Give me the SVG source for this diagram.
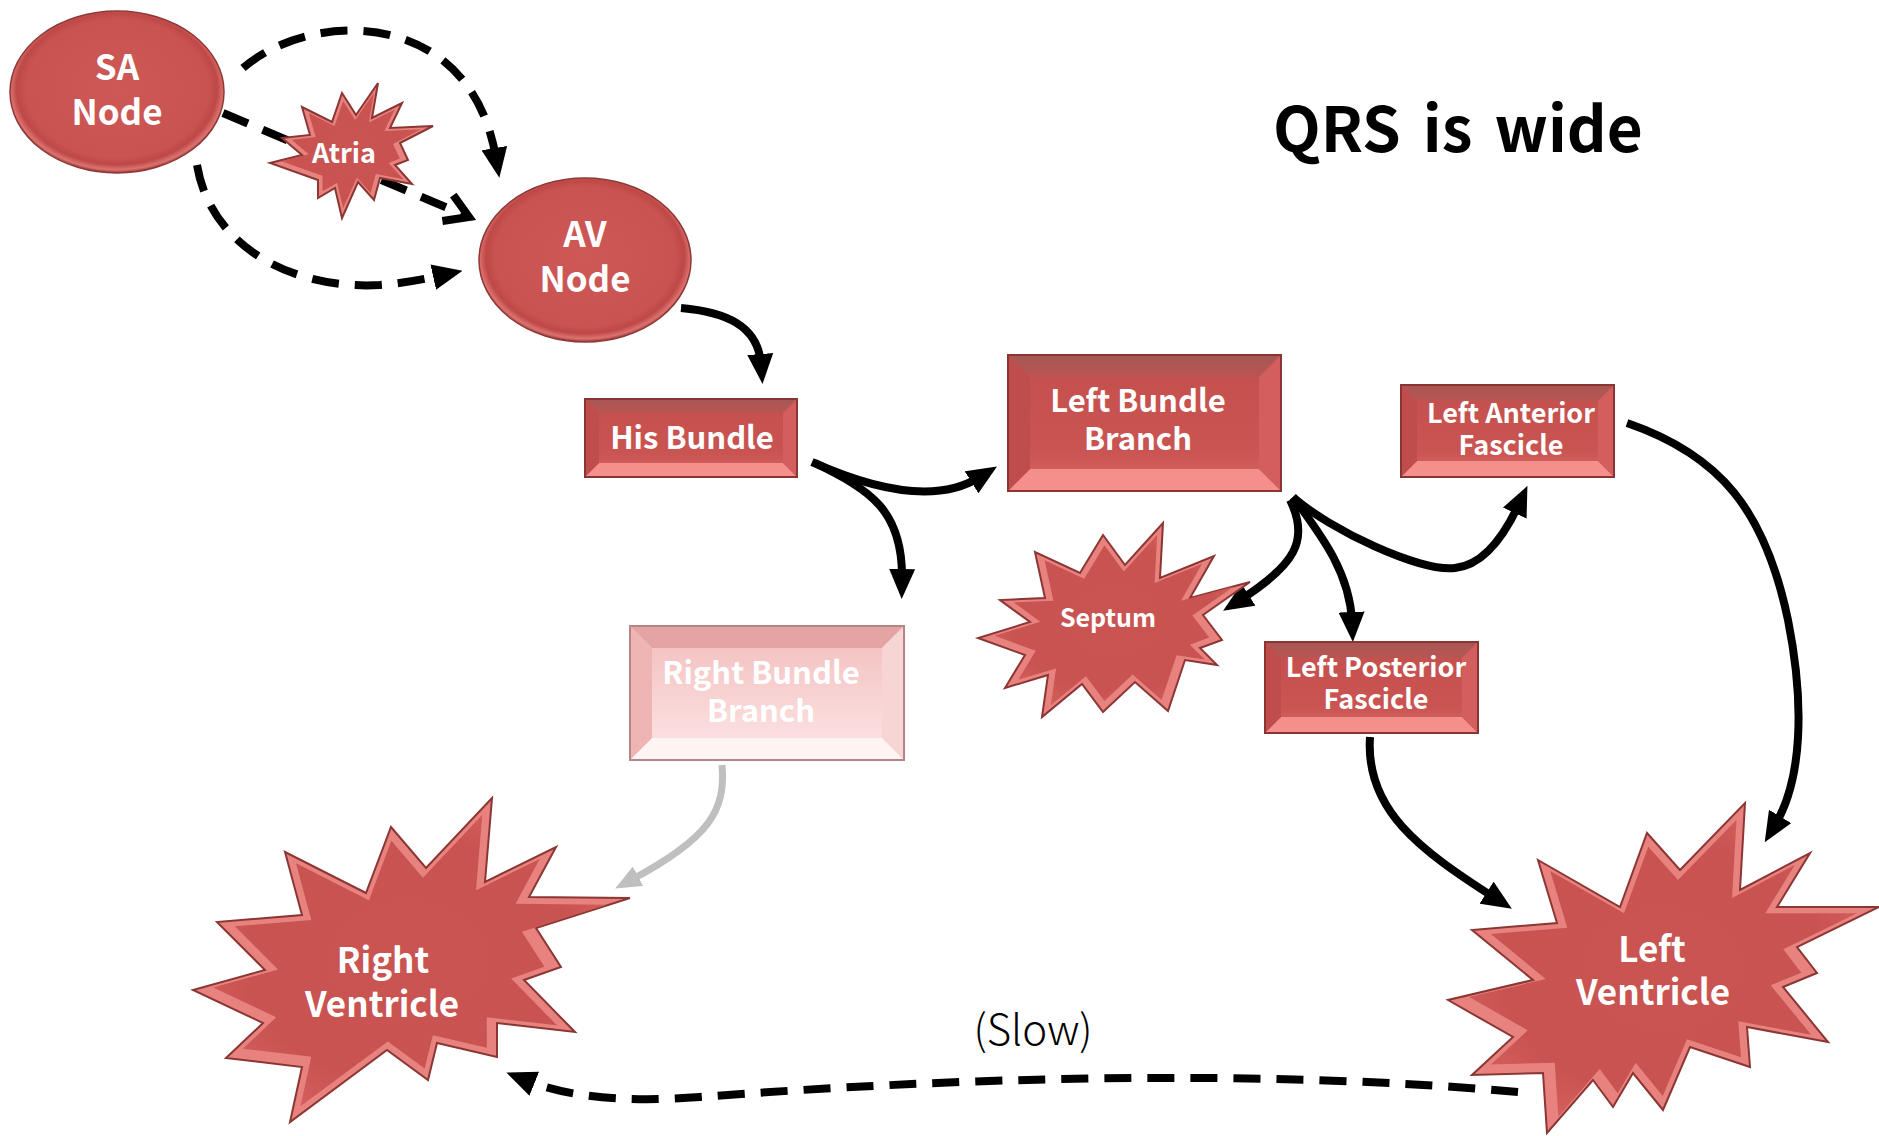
<svg xmlns="http://www.w3.org/2000/svg" xmlns:xlink="http://www.w3.org/1999/xlink" width="1879" height="1136" viewBox="0 0 1879 1136">
<style>
.lbl{fill:#fff;font-family:"Noto Sans CJK KR","Noto Sans",sans-serif;font-weight:bold;text-anchor:middle}
.conn{fill:none;stroke:#000;stroke-width:8}
.dash{stroke-dasharray:27 16}
.face{fill:url(#faceG)}
.bt{fill:url(#topG)}
.bb{fill:#F48F8C}
.bl{fill:#BF4D4B}
.br{fill:#D25F5D}
.edge{fill:none;stroke:#8A3533;stroke-width:2}
.pface{fill:url(#pfaceG)}
.pbt{fill:#E4A4A4}
.pbb{fill:#FFF4F4}
.pbl{fill:#EFB5B5}
.pbr{fill:#F8D5D5}
.pedge{fill:none;stroke:#B68585;stroke-width:2}
.so{fill:#E8827F;stroke:#8C3634;stroke-width:2}
.si{fill:url(#starG)}
.oval{fill:url(#ovalG);stroke:#8E3836;stroke-width:1.5}
</style>
<defs>
<linearGradient id="faceG" x1="0" y1="0" x2="0" y2="1"><stop offset="0" stop-color="#C4504E"/><stop offset="0.7" stop-color="#C95452"/><stop offset="1" stop-color="#D96966"/></linearGradient>
<linearGradient id="topG" x1="0" y1="0" x2="0" y2="1"><stop offset="0" stop-color="#A65755"/><stop offset="1" stop-color="#B95553"/></linearGradient>
<linearGradient id="pfaceG" x1="0" y1="0" x2="0" y2="1"><stop offset="0" stop-color="#F2BDBD"/><stop offset="1" stop-color="#FDE6E6"/></linearGradient>
<radialGradient id="ovalG" cx="50%" cy="48%" r="52%"><stop offset="0" stop-color="#CD5856"/><stop offset="0.82" stop-color="#C85351"/><stop offset="0.9" stop-color="#BE4846"/><stop offset="0.96" stop-color="#DC7270"/><stop offset="1" stop-color="#9C3B39"/></radialGradient>
<radialGradient id="starG" cx="50%" cy="50%" r="60%"><stop offset="0" stop-color="#C95452"/><stop offset="0.7" stop-color="#C85351"/><stop offset="1" stop-color="#D6625F"/></radialGradient>
<marker id="ah" viewBox="0 0 30 26" refX="10" refY="13" markerWidth="30" markerHeight="26" markerUnits="userSpaceOnUse" orient="auto"><path d="M0,0 L30,13 L0,26 z" fill="#000"/></marker>
<marker id="ahg" viewBox="0 0 26 22" refX="8" refY="11" markerWidth="26" markerHeight="22" markerUnits="userSpaceOnUse" orient="auto"><path d="M0,0 L26,11 L0,22 z" fill="#BFBFBF"/></marker>
<marker id="av" viewBox="0 0 34 36" refX="27" refY="18" markerWidth="34" markerHeight="36" markerUnits="userSpaceOnUse" orient="auto"><path d="M4,4 L27,18 L4,32" fill="none" stroke="#000" stroke-width="8"/></marker>
<polygon id="pAtria" points="378,83 372,118 402,103 390,128 433,126 400,143 408,160 395,165 412,184 380,178 374,200 358,182 342,218 335,188 318,198 318,180 270,163 302,155 282,138 310,135 302,107 332,122 342,93 356,115"/>
<polygon id="pSeptum" points="1163,523 1160,578 1214,556 1190,598 1250,582 1203,615 1222,640 1200,648 1217,665 1185,660 1168,711 1135,682 1103,712 1082,684 1042,717 1048,675 1005,688 1025,655 978,638 1030,622 1000,600 1045,598 1035,552 1080,573 1103,535 1125,565"/>
<polygon id="pRV" points="492,798 485,882 556,847 529,897 630,898 536,928 561,967 524,980 575,1032 497,1023 497,1057 437,1043 428,1080 387,1050 290,1122 302,1067 226,1058 263,1023 193,990 265,970 217,922 302,915 285,852 366,893 391,827 426,868"/>
<polygon id="pLV" points="1745,803 1740,890 1810,853 1777,907 1879,907 1797,947 1817,973 1783,987 1828,1042 1747,1027 1750,1067 1690,1047 1663,1110 1633,1073 1613,1107 1593,1080 1547,1133 1543,1073 1472,1075 1513,1037 1448,1000 1533,980 1472,930 1557,923 1538,860 1620,907 1647,833 1680,870"/>
</defs>
<rect width="1879" height="1136" fill="#fff"/>

<g id="connectors">
<path class="conn dash" d="M243,68 C310,10 470,5 496,158" marker-end="url(#ah)"/>
<path class="conn dash" d="M223,113 L469,217" marker-end="url(#av)"/>
<path class="conn dash" d="M197,165 C210,245 290,290 380,285 C405,283 425,279 443,275" marker-end="url(#ah)"/>
<path class="conn" d="M681,308 C725,312 758,325 761,364" marker-end="url(#ah)"/>
<path class="conn" d="M812,462 C870,488 935,505 980,477" marker-end="url(#ah)"/>
<path class="conn" d="M815,463 C870,490 903,510 902,579" marker-end="url(#ah)"/>
<path class="conn" d="M1293,497 C1330,530 1420,572 1455,568 C1485,565 1506,532 1519,504" marker-end="url(#ah)"/>
<path class="conn" d="M1293,497 C1325,540 1350,575 1352,622" marker-end="url(#ah)"/>
<path class="conn" d="M1290,500 C1310,540 1295,565 1240,600" marker-end="url(#ah)"/>
<path class="conn" d="M1627,423 C1720,455 1765,510 1788,620 C1805,705 1802,780 1775,825" marker-end="url(#ah)"/>
<path class="conn" d="M1370,737 C1365,810 1420,850 1495,898" marker-end="url(#ah)"/>
<path d="M722,765 C726,810 710,838 631,880" fill="none" stroke="#BFBFBF" stroke-width="7" marker-end="url(#ahg)"/>
<path class="conn dash" d="M1518,1092 C1250,1068 950,1078 700,1097 C620,1103 565,1096 525,1080" marker-end="url(#ah)"/>
</g>

<g id="sa-node">
<ellipse class="oval" cx="117" cy="92" rx="107" ry="81"/>
<text class="lbl" font-size="35"><tspan x="117" y="80">SA</tspan><tspan x="117" y="125">Node</tspan></text>
</g>

<g id="av-node">
<ellipse class="oval" cx="585" cy="260" rx="106" ry="82"/>
<text class="lbl" font-size="35"><tspan x="585" y="247">AV</tspan><tspan x="585" y="292">Node</tspan></text>
</g>

<g id="atria">
<use xlink:href="#pAtria" class="so"/>
<use xlink:href="#pAtria" class="si" transform="translate(350 150) scale(0.86) translate(-350 -150)"/>
<text class="lbl" x="344" y="163" font-size="27">Atria</text>
</g>

<g id="his-bundle">
<rect class="face" x="585" y="399" width="212" height="78"/>
<polygon class="bt" points="585,399 797,399 783,413 599,413"/>
<polygon class="bb" points="585,477 797,477 783,463 599,463"/>
<polygon class="bl" points="585,399 599,413 599,463 585,477"/>
<polygon class="br" points="797,399 783,413 783,463 797,477"/>
<rect class="edge" x="585" y="399" width="212" height="78"/>
<text class="lbl" x="692" y="449" font-size="31">His Bundle</text>
</g>

<g id="left-bundle-branch">
<rect class="face" x="1008" y="355" width="273" height="136"/>
<polygon class="bt" points="1008,355 1281,355 1259,377 1030,377"/>
<polygon class="bb" points="1008,491 1281,491 1259,469 1030,469"/>
<polygon class="bl" points="1008,355 1030,377 1030,469 1008,491"/>
<polygon class="br" points="1281,355 1259,377 1259,469 1281,491"/>
<rect class="edge" x="1008" y="355" width="273" height="136"/>
<text class="lbl" font-size="31"><tspan x="1138" y="412">Left Bundle</tspan><tspan x="1138" y="450">Branch</tspan></text>
</g>

<g id="left-anterior-fascicle">
<rect class="face" x="1401" y="385" width="213" height="92"/>
<polygon class="bt" points="1401,385 1614,385 1598,401 1417,401"/>
<polygon class="bb" points="1401,477 1614,477 1598,461 1417,461"/>
<polygon class="bl" points="1401,385 1417,401 1417,461 1401,477"/>
<polygon class="br" points="1614,385 1598,401 1598,461 1614,477"/>
<rect class="edge" x="1401" y="385" width="213" height="92"/>
<text class="lbl" font-size="27"><tspan x="1511" y="423">Left Anterior</tspan><tspan x="1511" y="455">Fascicle</tspan></text>
</g>

<g id="left-posterior-fascicle">
<rect class="face" x="1265" y="642" width="213" height="91"/>
<polygon class="bt" points="1265,642 1478,642 1462,658 1281,658"/>
<polygon class="bb" points="1265,733 1478,733 1462,717 1281,717"/>
<polygon class="bl" points="1265,642 1281,658 1281,717 1265,733"/>
<polygon class="br" points="1478,642 1462,658 1462,717 1478,733"/>
<rect class="edge" x="1265" y="642" width="213" height="91"/>
<text class="lbl" font-size="27"><tspan x="1376" y="677">Left Posterior</tspan><tspan x="1376" y="709">Fascicle</tspan></text>
</g>

<g id="right-bundle-branch">
<rect class="pface" x="630" y="626" width="274" height="134"/>
<polygon class="pbt" points="630,626 904,626 882,648 652,648"/>
<polygon class="pbb" points="630,760 904,760 882,738 652,738"/>
<polygon class="pbl" points="630,626 652,648 652,738 630,760"/>
<polygon class="pbr" points="904,626 882,648 882,738 904,760"/>
<rect class="pedge" x="630" y="626" width="274" height="134"/>
<text class="lbl" font-size="31"><tspan x="761" y="684">Right Bundle</tspan><tspan x="761" y="722">Branch</tspan></text>
</g>

<g id="septum">
<use xlink:href="#pSeptum" class="so"/>
<use xlink:href="#pSeptum" class="si" transform="translate(1115 620) scale(0.88) translate(-1115 -620)"/>
<text class="lbl" x="1108" y="627" font-size="25">Septum</text>
</g>

<g id="right-ventricle">
<use xlink:href="#pRV" class="so"/>
<use xlink:href="#pRV" class="si" transform="translate(395 965) scale(0.9) translate(-395 -965)"/>
<text class="lbl" font-size="35"><tspan x="383" y="973">Right</tspan><tspan x="382" y="1017">Ventricle</tspan></text>
</g>

<g id="left-ventricle">
<use xlink:href="#pLV" class="so"/>
<use xlink:href="#pLV" class="si" transform="translate(1660 970) scale(0.9) translate(-1660 -970)"/>
<text class="lbl" font-size="35"><tspan x="1652" y="962">Left</tspan><tspan x="1653" y="1005">Ventricle</tspan></text>
</g>

<g id="labels">
<text x="1273" y="152" font-family="'Noto Sans CJK KR','Noto Sans',sans-serif" font-weight="bold" font-size="62" word-spacing="8" fill="#000">QRS is wide</text>
<text x="1033" y="1045" font-family="'Noto Sans CJK KR','Noto Sans',sans-serif" font-weight="300" font-size="42" fill="#000" text-anchor="middle">(Slow)</text>
</g>
</svg>
